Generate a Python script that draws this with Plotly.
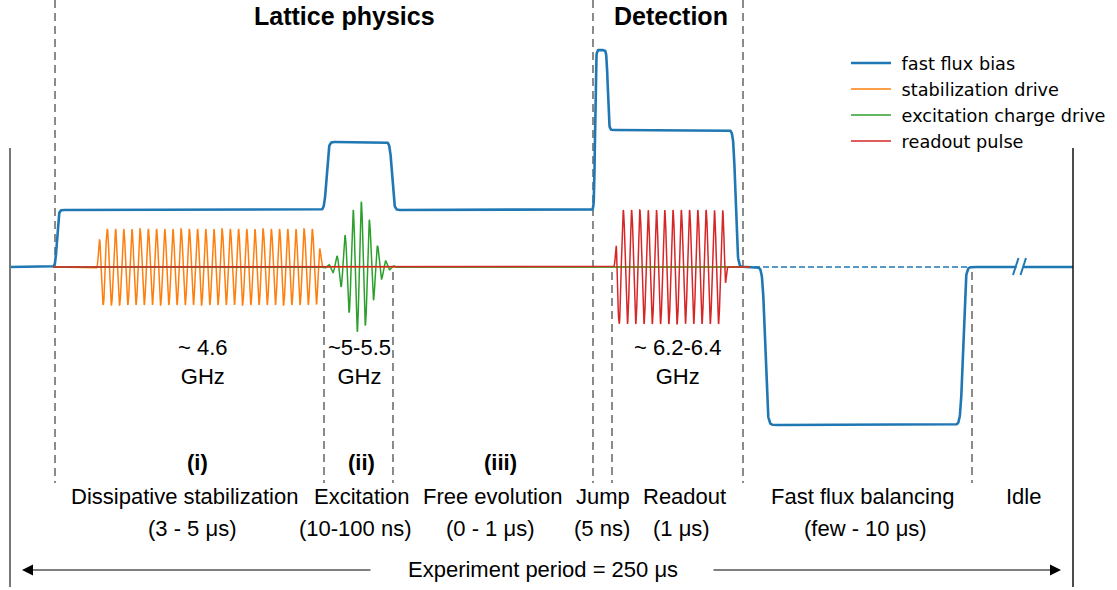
import numpy as np
import plotly.graph_objects as go

# ---------------- data (schematic units: x = time, y = signal level, baseline 0) -------------
series_names = ["fast flux bias", "stabilization drive", "excitation charge drive", "readout pulse"]
series_colors = ["#1f77b4", "#ff7f0e", "#2ca02c", "#d62728"]

# fast flux bias: levels between successive edges
flux_edges = [57.0, 326.5, 392.0, 595.0, 607.8, 735.5, 765.0, 963.0]
flux_levels = [0, 57, 125, 57, 217, 137, 0, -158, 0]
flux_widths = [1.6, 2.0, 2.0, 0.9, 1.2, 2.0, 2.3, 2.3]
flux_span = [10.0, 1073.0]
break_gap = [1016.5, 1023.5]
dashed_ref_span = [745.0, 970.0]

# stabilization drive (flat-top tone)
stab_window = [98.7, 320.0]
stab_period = 8.2
stab_peak_ref = 107.3
stab_amp = 38

# excitation charge drive (gaussian pulse)
exc_center = 359.5
exc_sigma = 12.0
exc_period = 8.2
exc_peak_ref = 361.3
exc_amp = 66

# readout pulse (flat-top tone)
ro_window = [616.0, 725.5]
ro_period = 8.28
ro_peak_ref = 623.3
ro_amp = 57

drive_span = [53.0, 750.0]

# stage boundaries (time) and text
boundaries_full = [55, 593, 743]
boundaries_short = [324, 393, 612, 972]

titles = ["Lattice physics", "Detection"]
freq_labels = ["~ 4.6<br>GHz", "~5-5.5<br>GHz", "~ 6.2-6.4<br>GHz"]
stage_ids = ["(i)", "(ii)", "(iii)"]
stage_names = ["Dissipative stabilization", "Excitation", "Free evolution", "Jump",
               "Readout", "Fast flux balancing", "Idle"]
stage_durations = ["(3 - 5 μs)", "(10-100 ns)", "(0 - 1 μs)", "(5 ns)", "(1 μs)", "(few - 10 μs)"]
period_label = "Experiment period = 250 μs"

# ---------------- layout positions ----------------
BASE_PX = 267.0
def yd(py):
    return BASE_PX - py

title_x = [344, 671]
freq_x = [203, 359, 677]
stage_id_x = [197, 361, 500]
stage_name_x = [184.5, 361, 492.5, 603, 684.5, 862.5, 1023.5]
stage_dur_x = [192, 355, 489.5, 601.5, 681, 865]

# ---------------- build waveforms ----------------
def step(x, c, w):
    return 0.5 * (1 + np.tanh((x - c) / w))

xf = np.arange(flux_span[0], flux_span[1] + 0.001, 0.25)
yf = np.full_like(xf, float(flux_levels[0]))
for i, (c, w) in enumerate(zip(flux_edges, flux_widths)):
    yf += (flux_levels[i + 1] - flux_levels[i]) * step(xf, c, w)
gap = (xf > break_gap[0]) & (xf < break_gap[1])
yf = yf.astype(object)
yf[gap] = None

xd = np.arange(drive_span[0], drive_span[1] + 0.001, 0.25)
env_s = step(xd, stab_window[0], 1.5) * (1 - step(xd, stab_window[1], 1.5))
y_stab = stab_amp * env_s * np.cos(2 * np.pi * (xd - stab_peak_ref) / stab_period)
env_e = np.exp(-(xd - exc_center) ** 2 / (2 * exc_sigma ** 2))
y_exc = exc_amp * env_e * np.cos(2 * np.pi * (xd - exc_peak_ref) / exc_period)
env_r = step(xd, ro_window[0], 1.0) * (1 - step(xd, ro_window[1], 1.0))
y_ro = ro_amp * env_r * np.cos(2 * np.pi * (xd - ro_peak_ref) / ro_period)

NB = "\u00a0"
fig = go.Figure()
fig.add_trace(go.Scatter(x=list(dashed_ref_span), y=[0, 0], mode="lines",
                         line=dict(color=series_colors[0], width=1.5, dash="6px,3px"),
                         showlegend=False, hoverinfo="skip"))
fig.add_trace(go.Scatter(x=xf, y=list(yf), mode="lines", name=NB + series_names[0], legendgroup="a",
                         line=dict(color=series_colors[0], width=2.6), connectgaps=False))
fig.add_trace(go.Scatter(x=xd, y=y_stab, mode="lines", name=NB + series_names[1], legendgroup="b",
                         line=dict(color=series_colors[1], width=1.5)))
fig.add_trace(go.Scatter(x=xd, y=y_exc, mode="lines", name=NB + series_names[2], legendgroup="c",
                         line=dict(color=series_colors[2], width=1.5)))
fig.add_trace(go.Scatter(x=xd, y=y_ro, mode="lines", name=NB + series_names[3], legendgroup="d",
                         line=dict(color=series_colors[3], width=1.5)))

shapes = []
for bx in boundaries_full:
    shapes.append(dict(type="line", xref="x", yref="y", x0=bx, x1=bx, y0=yd(0), y1=yd(483),
                       line=dict(color="#4d4d4d", width=1.3, dash="8px,5px"), layer="below"))
for bx in boundaries_short:
    shapes.append(dict(type="line", xref="x", yref="y", x0=bx, x1=bx, y0=yd(272), y1=yd(483),
                       line=dict(color="#4d4d4d", width=1.3, dash="8px,5px"), layer="below"))
shapes.append(dict(type="line", xref="x", yref="y", x0=10, x1=10, y0=yd(148), y1=yd(587),
                   line=dict(color="#777777", width=2)))
shapes.append(dict(type="line", xref="x", yref="y", x0=1073, x1=1073, y0=yd(148), y1=yd(587),
                   line=dict(color="#111111", width=1.5)))
for bx in [1013.0, 1020.5]:
    shapes.append(dict(type="line", xref="x", yref="y", x0=bx, x1=bx + 5.5, y0=yd(275), y1=yd(258),
                       line=dict(color=series_colors[0], width=2)))

ann = []
LAB = "Liberation Sans, Arial, sans-serif"
for t, x in zip(titles, title_x):
    ann.append(dict(x=x, y=yd(16), text="<b>%s</b>" % t, showarrow=False, xref="x", yref="y",
                    font=dict(family=LAB, size=25, color="black")))
for t, x in zip(freq_labels, freq_x):
    ann.append(dict(x=x, y=yd(362), text=t, showarrow=False, xref="x", yref="y", align="center",
                    font=dict(family=LAB, size=22, color="black")))
for t, x in zip(stage_ids, stage_id_x):
    ann.append(dict(x=x, y=yd(462), text="<b>%s</b>" % t, showarrow=False, xref="x", yref="y",
                    font=dict(family=LAB, size=22, color="black")))
for t, x in zip(stage_names, stage_name_x):
    ann.append(dict(x=x, y=yd(496), text=t, showarrow=False, xref="x", yref="y",
                    font=dict(family=LAB, size=22, color="black")))
for t, x in zip(stage_durations, stage_dur_x):
    ann.append(dict(x=x, y=yd(528), text=t, showarrow=False, xref="x", yref="y",
                    font=dict(family=LAB, size=22, color="black")))
ann.append(dict(x=543, y=yd(569), text=period_label, showarrow=False, xref="x", yref="y",
                font=dict(family=LAB, size=22, color="black")))
for head, tail in [(22, 372), (1061, 712)]:
    ann.append(dict(x=head, y=yd(570), ax=tail, ay=yd(570), axref="x", ayref="y", xref="x", yref="y",
                    text="", showarrow=True, arrowhead=2, arrowsize=2.0, arrowwidth=1.1,
                    arrowcolor="black"))

fig.update_layout(
    width=1117, height=590, autosize=False,
    margin=dict(l=0, r=0, t=0, b=0),
    paper_bgcolor="white", plot_bgcolor="white",
    xaxis=dict(range=[0, 1117], visible=False, fixedrange=True),
    yaxis=dict(range=[yd(590), yd(0)], visible=False, fixedrange=True),
    shapes=shapes, annotations=ann,
    legend=dict(x=846 / 1117, y=1 - 45 / 590, xanchor="left", yanchor="top",
                font=dict(family="DejaVu Sans", size=17.7, color="black"),
                bgcolor="rgba(0,0,0,0)", tracegroupgap=0, itemwidth=40,
                traceorder="grouped"),
    showlegend=True,
)
fig.write_html("out.html", config={"displayModeBar": False},
               post_script="document.body.style.margin='0px';")
